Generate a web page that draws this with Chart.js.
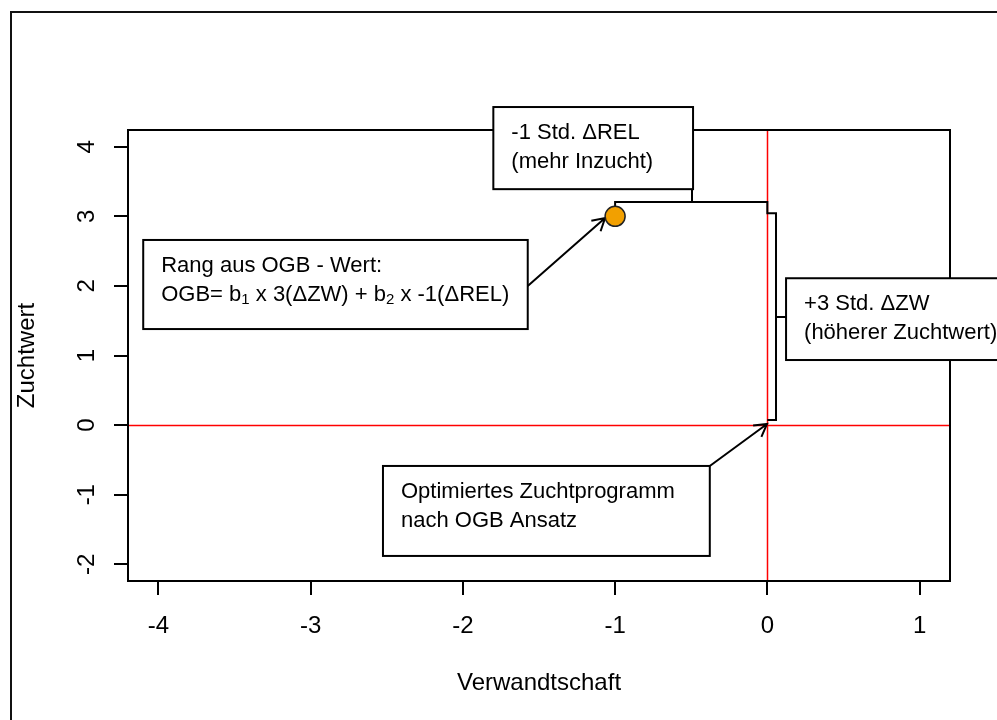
<!DOCTYPE html>
<html>
<head>
<meta charset="utf-8">
<script src="https://cdn.jsdelivr.net/npm/chart.js@4/dist/chart.umd.min.js"></script>
<style>
html, body { margin: 0; background: #fff; }
#wrap { width: 997px; height: 720px; }
</style>
</head>
<body>
<div id="wrap"><canvas id="chart"></canvas></div>
<script>
// data
const xTicks = [-4, -3, -2, -1, 0, 1];
const yTicks = [-2, -1, 0, 1, 2, 3, 4];
const pointX = [-1];
const pointY = [3];
const hLines = [0];
const vLines = [0];

const FONT = "'Liberation Sans', Arial, sans-serif";

// annotation boxes, in data units (x1,y1 top-left, x2,y2 bottom-right)
const notes = [
  { x1: -4.10, y1: 2.66, x2: -1.574, y2: 1.38,
    lines: ['Rang aus OGB - Wert:', 'OGB= b_1 x 3(\u0394ZW) + b_2 x -1(\u0394REL)'] },
  { x1: -1.80, y1: 4.57, x2: -0.488, y2: 3.39,
    lines: ['-1 Std. \u0394REL', '(mehr Inzucht)'] },
  { x1: 0.123, y1: 2.11, x2: 1.6, y2: 0.935,
    lines: ['+3 Std. \u0394ZW', '(h\u00f6herer Zuchtwert)'] },
  { x1: -2.525, y1: -0.587, x2: -0.378, y2: -1.88,
    lines: ['Optimiertes Zuchtprogramm', 'nach OGB Ansatz'] }
];
const arrows = [
  [-1.574, 2.0, -1.066, 2.976],
  [-0.378, -0.587, -0.002, 0.016]
];
const brackets = [
  [[-1, 3.02], [-1, 3.205], [0, 3.205], [0, 3.045], [0.057, 3.045], [0.057, 0.073], [0.0, 0.073]],
  [[-0.495, 3.205], [-0.495, 3.39]],
  [[0.057, 1.553], [0.123, 1.553]]
];

const px = (c, v) => c.scales.x.getPixelForValue(v);
const py = (c, v) => c.scales.y.getPixelForValue(v);

function drawNote(c, n) {
  const ctx = c.ctx;
  const l = px(c, n.x1), r = px(c, n.x2), t = py(c, n.y1), b = py(c, n.y2);
  ctx.fillStyle = '#fff';
  ctx.fillRect(l, t, r - l, b - t);
  ctx.strokeStyle = '#000';
  ctx.lineWidth = 2;
  ctx.strokeRect(l, t, r - l, b - t);
  ctx.fillStyle = '#000';
  ctx.textAlign = 'left';
  ctx.textBaseline = 'middle';
  n.lines.forEach((s, i) => {
    let x = l + 18;
    const y = t + 26 + i * 29;
    s.split(/(_\d)/).forEach(part => {
      if (!part) return;
      const sub = part[0] === '_';
      const txt = sub ? part.slice(1) : part;
      ctx.font = (sub ? '15px ' : '22px ') + FONT;
      ctx.fillText(txt, x, y + (sub ? 5 : 0));
      x += ctx.measureText(txt).width;
    });
  });
}

function drawArrow(c, a) {
  const ctx = c.ctx;
  const x1 = px(c, a[0]), y1 = py(c, a[1]), x2 = px(c, a[2]), y2 = py(c, a[3]);
  const ang = Math.atan2(y2 - y1, x2 - x1), L = 14, s = Math.PI / 6;
  ctx.beginPath();
  ctx.moveTo(x1, y1);
  ctx.lineTo(x2, y2);
  ctx.moveTo(x2 - L * Math.cos(ang - s), y2 - L * Math.sin(ang - s));
  ctx.lineTo(x2, y2);
  ctx.lineTo(x2 - L * Math.cos(ang + s), y2 - L * Math.sin(ang + s));
  ctx.stroke();
}

const decor = {
  id: 'decor',
  beforeDraw(c) {
    const ctx = c.ctx;
    ctx.save();
    ctx.fillStyle = '#fff';
    ctx.fillRect(0, 0, c.width, c.height);
    ctx.restore();
  },
  beforeDatasetsDraw(c) {
    const ctx = c.ctx, a = c.chartArea;
    ctx.save();
    ctx.strokeStyle = '#ff0000';
    ctx.lineWidth = 1.5;
    hLines.forEach(v => {
      const y = Math.round(py(c, v)) + 0.5;
      ctx.beginPath(); ctx.moveTo(a.left, y); ctx.lineTo(a.right, y); ctx.stroke();
    });
    vLines.forEach(v => {
      const x = Math.round(px(c, v)) + 0.5;
      ctx.beginPath(); ctx.moveTo(x, a.top); ctx.lineTo(x, a.bottom); ctx.stroke();
    });
    ctx.strokeStyle = '#000';
    ctx.lineWidth = 2;
    ctx.strokeRect(a.left, a.top, a.right - a.left, a.bottom - a.top);
    brackets.forEach(b => {
      ctx.beginPath();
      b.forEach((p, i) => i ? ctx.lineTo(px(c, p[0]), py(c, p[1])) : ctx.moveTo(px(c, p[0]), py(c, p[1])));
      ctx.stroke();
    });
    arrows.forEach(ar => drawArrow(c, ar));
    ctx.restore();
  },
  afterDatasetsDraw(c) {
    c.ctx.save();
    notes.forEach(n => drawNote(c, n));
    c.ctx.restore();
  },
  afterDraw(c) {
    const ctx = c.ctx, ys = c.scales.y;
    ctx.save();
    ctx.font = '24px ' + FONT;
    ctx.fillStyle = '#000';
    ctx.textAlign = 'center';
    ctx.textBaseline = 'middle';
    ys.ticks.forEach(t => {
      ctx.save();
      ctx.translate(86, ys.getPixelForValue(t.value));
      ctx.rotate(-Math.PI / 2);
      ctx.fillText(String(t.value), 0, 1);
      ctx.restore();
    });
    // outer frame
    ctx.strokeStyle = '#111';
    ctx.lineWidth = 2;
    ctx.beginPath();
    ctx.moveTo(11, 720);
    ctx.lineTo(11, 12);
    ctx.lineTo(997, 12);
    ctx.stroke();
    ctx.restore();
  }
};

new Chart(document.getElementById('chart'), {
  type: 'scatter',
  data: {
    datasets: [{
      data: pointX.map((x, i) => ({ x: x, y: pointY[i] })),
      pointRadius: 10,
      pointHoverRadius: 10,
      backgroundColor: '#F2A000',
      borderColor: '#222',
      borderWidth: 1.5,
      clip: false
    }]
  },
  options: {
    responsive: true,
    maintainAspectRatio: false,
    animation: false,
    layout: { padding: { left: 0, top: 130, right: 47, bottom: 0 } },
    plugins: {
      legend: { display: false },
      tooltip: { enabled: false }
    },
    scales: {
      x: {
        type: 'linear',
        min: -4.2,
        max: 1.2,
        afterBuildTicks: s => { s.ticks = xTicks.map(v => ({ value: v })); },
        afterFit: s => { s.height = 139; },
        grid: { drawOnChartArea: false, tickLength: 14, color: '#000', lineWidth: 2 },
        border: { display: false },
        ticks: { color: '#000', font: { family: FONT, size: 24 }, padding: 17, maxRotation: 0 },
        title: { display: true, text: 'Verwandtschaft', color: '#000',
                 font: { family: FONT, size: 24 }, padding: { top: 0, bottom: 22 } }
      },
      y: {
        type: 'linear',
        min: -2.24,
        max: 4.24,
        afterBuildTicks: s => { s.ticks = yTicks.map(v => ({ value: v })); },
        afterFit: s => { s.width = 128; },
        grid: { drawOnChartArea: false, tickLength: 14, color: '#000', lineWidth: 2 },
        border: { display: false },
        ticks: { display: false },
        title: { display: true, text: 'Zuchtwert', color: '#000',
                 font: { family: FONT, size: 24 }, padding: { top: 13, bottom: 0 } }
      }
    }
  },
  plugins: [decor]
});
</script>
</body>
</html>
